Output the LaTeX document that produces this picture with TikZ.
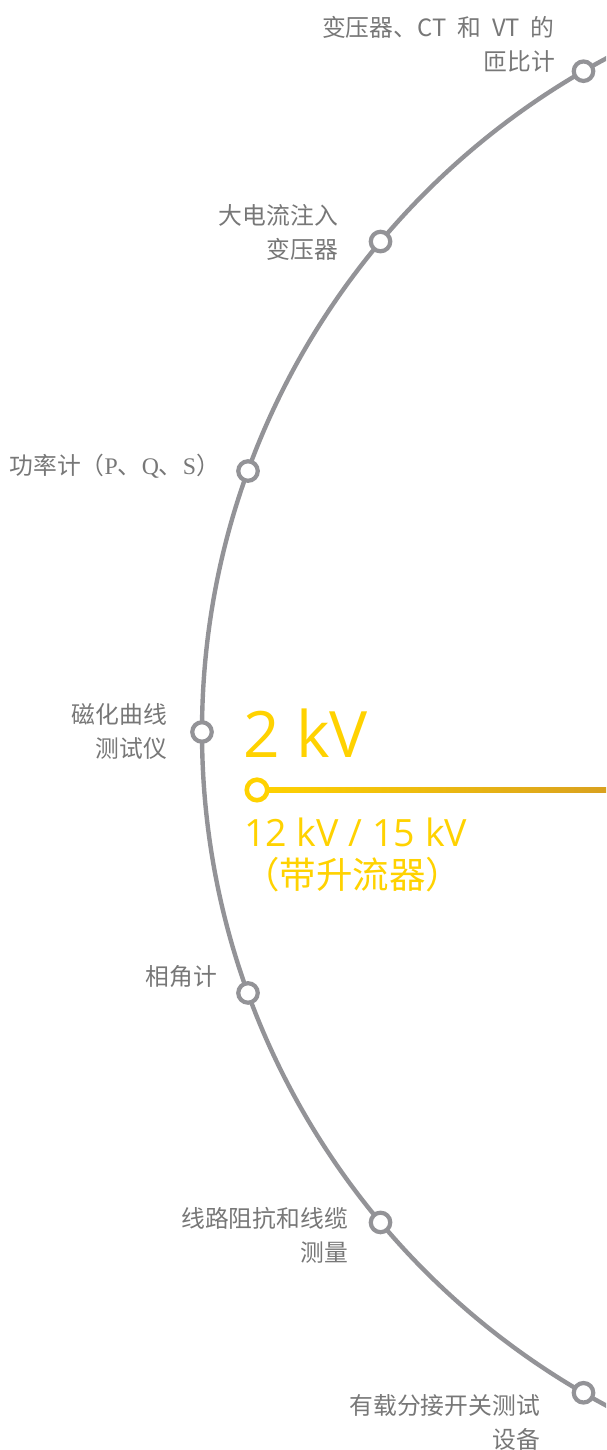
\documentclass[tikz,border=0pt]{standalone}
\usepackage{fontspec}
\newfontfamily\cjk{Noto Sans CJK SC}
\newfontfamily\osans{Open Sans}
\newfontfamily\lserif{Liberation Serif}
\definecolor{arcgray}{HTML}{939397}
\definecolor{txtgray}{HTML}{777777}
\definecolor{ylw}{HTML}{FFD200}
\definecolor{orn}{HTML}{D9A11F}
\tikzset{
  arcline/.style={draw=arcgray, line width=4.4pt},
  dot/.style={circle, draw=arcgray, fill=white, line width=4.2pt, minimum size=19.5pt, inner sep=0pt},
  ydot/.style={circle, draw=ylw, fill=white, line width=4.6pt, minimum size=20.5pt, inner sep=0pt},
  lbl/.style={font=\cjk\fontsize{23.8}{34}\selectfont, text=txtgray, align=right, anchor=east, inner sep=0pt},
  ybig/.style={font=\osans\fontsize{64}{64}\selectfont, text=ylw, anchor=base west, inner sep=0pt},
  ymid/.style={font=\osans\fontsize{37.6}{37.6}\selectfont, text=ylw, anchor=base west, inner sep=0pt},
  ycjk/.style={font=\cjk\fontsize{36.5}{36.5}\selectfont, text=ylw, anchor=west, inner sep=0pt}
}
\begin{document}
\begin{tikzpicture}[x=1pt,y=1pt]
\useasboundingbox (0,0) rectangle (606,1450);
\begin{scope}
\clip (0,0) rectangle (606,1450);
\coordinate (C) at (965,718);
\draw[arcline] (965,1481) arc (90:270:763);
\path (C) ++(120:763) node[dot] (n1) {};
\path (C) ++(140:763) node[dot] (n2) {};
\path (C) ++(160:763) node[dot] (n3) {};
\path (C) ++(180:763) node[dot] (n4) {};
\path (C) ++(200:763) node[dot] (n5) {};
\path (C) ++(220:763) node[dot] (n6) {};
\path (C) ++(240:763) node[dot] (n7) {};
\coordinate (yend) at (606,660);
\coordinate (ypos) at (257,660);
\shade[left color=ylw, right color=orn] ([yshift=2.4pt]ypos) rectangle ([yshift=-2.4pt]yend);
\node[ydot] (y) at (ypos) {};
\end{scope}
\node[lbl] (l1) at (555,1405.5) {变压器、CT\hspace{11pt}和\hspace{11pt}VT\hspace{11pt}的\\匝比计};
\node[lbl] (l2) at (338,1217.5) {大电流注入\\变压器};
\node[lbl] (l3) at (220,984) {功率计（{\lserif P}、{\lserif Q}、{\lserif S}）};
\node[lbl] (l4) at (167,718.5) {磁化曲线\\测试仪};
\node[lbl] (l5) at (217,473) {相角计};
\node[lbl] (l6) at (348,215) {线路阻抗和线缆\\测量};
\node[lbl] (l7) at (540,28) {有载分接开关测试\\设备};
\node[ybig] (v1) at (243,692) {2 kV};
\node[ymid] (v2) at (244,603) {12 kV / 15 kV};
\node[ycjk] (v3) at (243,575) {（带升流器）};
\end{tikzpicture}
\end{document}
